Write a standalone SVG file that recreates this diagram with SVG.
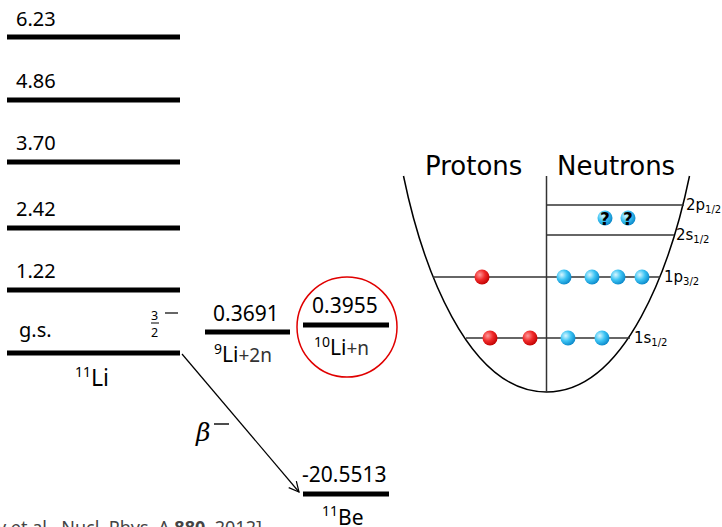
<svg xmlns="http://www.w3.org/2000/svg" width="722" height="527" viewBox="0 0 722 527">
<defs>
<radialGradient id="red" cx="0.35" cy="0.35" r="0.7">
<stop offset="0" stop-color="#ff9a9a"/><stop offset="0.5" stop-color="#f02a2a"/><stop offset="1" stop-color="#c00000"/>
</radialGradient>
<radialGradient id="blue" cx="0.35" cy="0.35" r="0.7">
<stop offset="0" stop-color="#d8f6ff"/><stop offset="0.5" stop-color="#3cc4f4"/><stop offset="1" stop-color="#0a86c8"/>
</radialGradient>
<marker id="arr" viewBox="0 0 12 12" refX="11" refY="6" markerWidth="12" markerHeight="12" markerUnits="userSpaceOnUse" orient="auto">
<path d="M1,1 L11,6 L1,11" fill="none" stroke="#000" stroke-width="1.2"/>
</marker>
</defs>
<style>
.lvl{stroke:#000;stroke-width:5}
.num{font-family:"Noto Sans","Liberation Sans",sans-serif;font-size:20px;fill:#000}
.big{font-family:"Noto Sans","Liberation Sans",sans-serif;font-size:21px;fill:#000}
.sup{font-size:14px}
.lt{fill:#333}
.dj{font-family:"DejaVu Sans",sans-serif;fill:#000}
.sh{stroke:#333;stroke-width:1.5}
.rb{fill:url(#red)}
.bb{fill:url(#blue)}
</style>
<g id="lvl-623"><line class="lvl" x1="7" y1="37" x2="180" y2="37"/><text class="num" x="16" y="26">6.23</text></g>
<g id="lvl-486"><line class="lvl" x1="7" y1="100" x2="180" y2="100"/><text class="num" x="16" y="88">4.86</text></g>
<g id="lvl-370"><line class="lvl" x1="7" y1="162" x2="180" y2="162"/><text class="num" x="16" y="150">3.70</text></g>
<g id="lvl-242"><line class="lvl" x1="7" y1="228" x2="180" y2="228"/><text class="num" x="16" y="216">2.42</text></g>
<g id="lvl-122"><line class="lvl" x1="7" y1="290" x2="180" y2="290"/><text class="num" x="16" y="278">1.22</text></g>
<g id="lvl-gs">
<line class="lvl" x1="7" y1="353" x2="180" y2="353"/>
<text class="num" x="19" y="337">g.s.</text>
<text class="num" x="151" y="320" style="font-size:12.5px">3</text>
<line x1="151" y1="323" x2="159" y2="323" stroke="#000" stroke-width="1"/>
<text class="num" x="151" y="336.5" style="font-size:12.5px">2</text>
<line x1="165" y1="313" x2="178" y2="313" stroke="#000" stroke-width="1.2"/>
<text class="big" x="75" y="386" style="font-size:23px"><tspan class="sup" dy="-9">11</tspan><tspan dy="9">Li</tspan></text>
</g>
<g id="lvl-9li">
<line class="lvl" x1="205" y1="332" x2="290" y2="332"/>
<text class="big" x="213" y="321">0.3691</text>
<text class="big" x="214" y="362"><tspan class="sup" dy="-8">9</tspan><tspan dy="8">Li</tspan><tspan class="lt" style="font-size:19px">+2n</tspan></text>
</g>
<g id="lvl-10li">
<circle cx="347" cy="327" r="50" fill="none" stroke="#e00000" stroke-width="1.5"/>
<line class="lvl" x1="303" y1="325" x2="389" y2="325"/>
<text class="big" x="312" y="313">0.3955</text>
<text class="big" x="314" y="355"><tspan class="sup" dy="-8">10</tspan><tspan dy="8">Li</tspan><tspan class="lt" style="font-size:19px">+n</tspan></text>
</g>
<g id="lvl-be">
<line class="lvl" x1="303" y1="494" x2="389" y2="494"/>
<text class="big" x="302" y="482">-20.5513</text>
<text class="big" x="322" y="525"><tspan class="sup" dy="-9">11</tspan><tspan dy="9">Be</tspan></text>
</g>
<g id="connectors">
<line x1="182" y1="354" x2="299" y2="492" stroke="#000" stroke-width="1.2" marker-end="url(#arr)"/>
<text x="196" y="441" style="font-family:'DejaVu Serif',serif;font-style:italic;font-size:25px">β</text>
<line x1="214" y1="424" x2="229" y2="424" stroke="#000" stroke-width="1.4"/>
</g>
<g id="citation">
<text x="-3" y="534" style="font-family:'Noto Sans','Liberation Sans',sans-serif;font-size:18px;fill:#444">y et al., Nucl. Phys. A <tspan style="font-weight:bold">880</tspan>, 2012]</text>
</g>
<g id="shell-model">
<text class="dj" x="425" y="175" style="font-size:26px">Protons</text>
<text class="dj" x="557" y="175" style="font-size:26px">Neutrons</text>
<path d="M403.5,176 C421.5,263 466.5,392 546.5,392 C626.5,392 671.5,263 689.5,176" fill="none" stroke="#000" stroke-width="1.5"/>
<line x1="546.5" y1="176" x2="546.5" y2="392" stroke="#333" stroke-width="1.5"/>
<line class="sh" x1="546.5" y1="205" x2="684" y2="205"/>
<line class="sh" x1="546.5" y1="235" x2="674" y2="235"/>
<line class="sh" x1="433" y1="277" x2="660" y2="277"/>
<line class="sh" x1="466" y1="338" x2="630" y2="338"/>
<text class="dj" x="686" y="210" style="font-size:15px">2p<tspan style="font-size:10px" dy="3">1/2</tspan></text>
<text class="dj" x="676" y="240" style="font-size:15px">2s<tspan style="font-size:10px" dy="3">1/2</tspan></text>
<text class="dj" x="664" y="282" style="font-size:15px">1p<tspan style="font-size:10px" dy="3">3/2</tspan></text>
<text class="dj" x="634" y="343" style="font-size:15px">1s<tspan style="font-size:10px" dy="3">1/2</tspan></text>
<circle class="rb" cx="482" cy="277" r="7.5"/>
<circle class="bb" cx="564" cy="277" r="7.5"/>
<circle class="bb" cx="592" cy="277" r="7.5"/>
<circle class="bb" cx="618" cy="277" r="7.5"/>
<circle class="bb" cx="642" cy="277" r="7.5"/>
<circle class="rb" cx="490" cy="338" r="7.5"/>
<circle class="rb" cx="530" cy="338" r="7.5"/>
<circle class="bb" cx="568" cy="338" r="7.5"/>
<circle class="bb" cx="602" cy="338" r="7.5"/>
<circle class="bb" cx="605" cy="218" r="7.5"/>
<circle class="bb" cx="628" cy="218" r="7.5"/>
<text class="dj" x="605" y="224.5" text-anchor="middle" style="font-size:17px;font-weight:bold">?</text>
<text class="dj" x="628" y="224.5" text-anchor="middle" style="font-size:17px;font-weight:bold">?</text>
</g>
</svg>
